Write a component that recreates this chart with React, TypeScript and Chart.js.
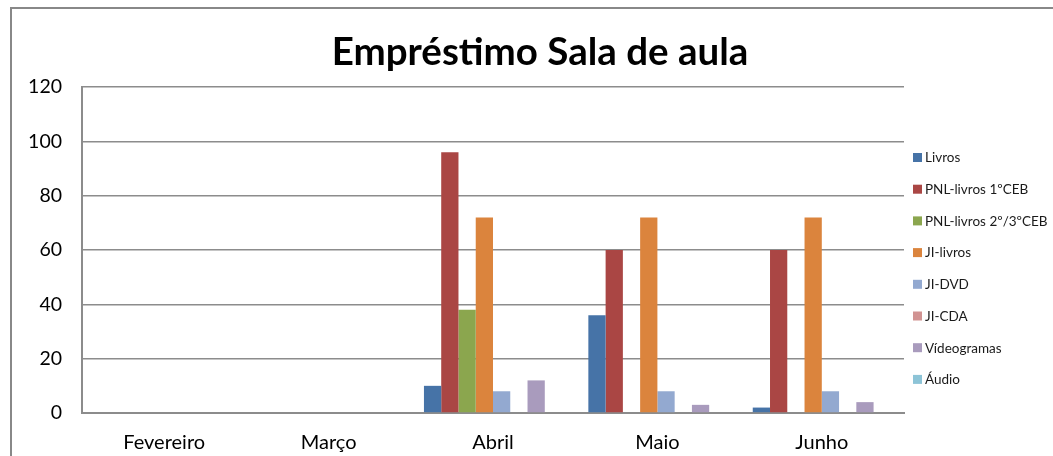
import React, { useEffect, useRef } from "react";
import { Chart, registerables } from "chart.js";

Chart.register(...registerables);

const titleText = "Empréstimo Sala de aula";
const categories = ["Fevereiro", "Março", "Abril", "Maio", "Junho"];
const seriesNames = [
  "Livros",
  "PNL-livros 1ºCEB",
  "PNL-livros 2º/3ºCEB",
  "JI-livros",
  "JI-DVD",
  "JI-CDA",
  "Vídeogramas",
  "Áudio",
];
const livros = [0, 0, 10, 36, 2];
const pnlLivros1 = [0, 0, 96, 60, 60];
const pnlLivros23 = [0, 0, 38, 0, 0];
const jiLivros = [0, 0, 72, 72, 72];
const jiDvd = [0, 0, 8, 8, 8];
const jiCda = [0, 0, 0, 0, 0];
const videogramas = [0, 0, 12, 3, 4];
const audio = [0, 0, 0, 0, 0];
const seriesValues = [livros, pnlLivros1, pnlLivros23, jiLivros, jiDvd, jiCda, videogramas, audio];
const seriesColors = [
  "#4673A7",
  "#AA4644",
  "#8BA64E",
  "#DB843D",
  "#93A9D0",
  "#D19392",
  "#A99BBD",
  "#8DC4D7",
];
const yMin = 0;
const yMax = 120;
const yStep = 20;

const FONT = "Lato, 'Liberation Sans', sans-serif";

const legendPlugin = {
  id: "customLegend",
  afterDraw(chart: any) {
    const ctx = chart.ctx as CanvasRenderingContext2D;
    const area = chart.chartArea;
    const x0 = area.right + 9;
    const y0 = area.top + 70.5;
    const spacing = 31.7;
    ctx.save();
    ctx.font = `13.5px ${FONT}`;
    ctx.textBaseline = "middle";
    ctx.textAlign = "left";
    chart.data.datasets.forEach((ds: any, i: number) => {
      const cy = y0 + i * spacing;
      ctx.fillStyle = ds.backgroundColor;
      ctx.fillRect(x0, cy - 4.5, 9, 9);
      ctx.fillStyle = "#1a1a1a";
      ctx.fillText(ds.label, x0 + 12, cy + 0.5);
    });
    ctx.restore();
  },
};

export default function App() {
  const canvasRef = useRef<HTMLCanvasElement | null>(null);

  useEffect(() => {
    if (!canvasRef.current) return;
    const chart = new Chart(canvasRef.current, {
      type: "bar",
      data: {
        labels: categories,
        datasets: seriesNames.map((name, i) => ({
          label: name,
          data: seriesValues[i],
          backgroundColor: seriesColors[i],
          borderWidth: 0,
          categoryPercentage: 0.84,
          barPercentage: 1.0,
          yAxisID: "y",
        })),
      },
      options: {
        responsive: false,
        animation: false,
        layout: { padding: { left: 27, right: 0, top: 0, bottom: 0 } },
        plugins: {
          legend: { display: false },
          tooltip: { enabled: false },
          title: {
            display: true,
            text: titleText,
            color: "#000000",
            font: { family: FONT, size: 38.5, weight: "bold" },
            padding: { top: 29, bottom: 11.8 },
          },
        },
        scales: {
          x: {
            grid: { display: false, drawTicks: false },
            border: { display: true, color: "#8c8c8c", width: 2 },
            ticks: {
              color: "#000000",
              font: { family: FONT, size: 20 },
              padding: 18,
              maxRotation: 0,
            },
            afterFit: (s: any) => {
              s.height = 43;
            },
          },
          y: {
            position: "left",
            min: yMin,
            max: yMax,
            ticks: {
              stepSize: yStep,
              color: "#000000",
              font: { family: FONT, size: 19.5 },
              padding: 20,
            },
            grid: { color: "#8c8c8c", lineWidth: 1.6, drawTicks: false },
            border: { display: true, color: "#8c8c8c", width: 2 },
            afterFit: (s: any) => {
              s.width = 55;
            },
          },
          yRight: {
            type: "linear",
            position: "right",
            display: true,
            grid: { display: false, drawTicks: false },
            border: { display: false },
            ticks: { display: false },
            afterFit: (s: any) => {
              s.width = 149;
            },
          },
        },
      },
      plugins: [legendPlugin],
    } as any);
    return () => chart.destroy();
  }, []);

  return (
    <div
      style={{
        position: "absolute",
        left: 0,
        top: 0,
        width: 1053,
        height: 456,
        overflow: "hidden",
        background: "#ffffff",
      }}
    >
      <div
        style={{
          position: "absolute",
          left: 10,
          top: 7,
          width: 1200,
          height: 600,
          borderLeft: "2px solid #888888",
          borderTop: "2px solid #888888",
          boxSizing: "border-box",
        }}
      />
      <canvas
        ref={canvasRef}
        width={1053}
        height={456}
        style={{ position: "absolute", left: 0, top: 0, width: 1053, height: 456 }}
      />
    </div>
  );
}
